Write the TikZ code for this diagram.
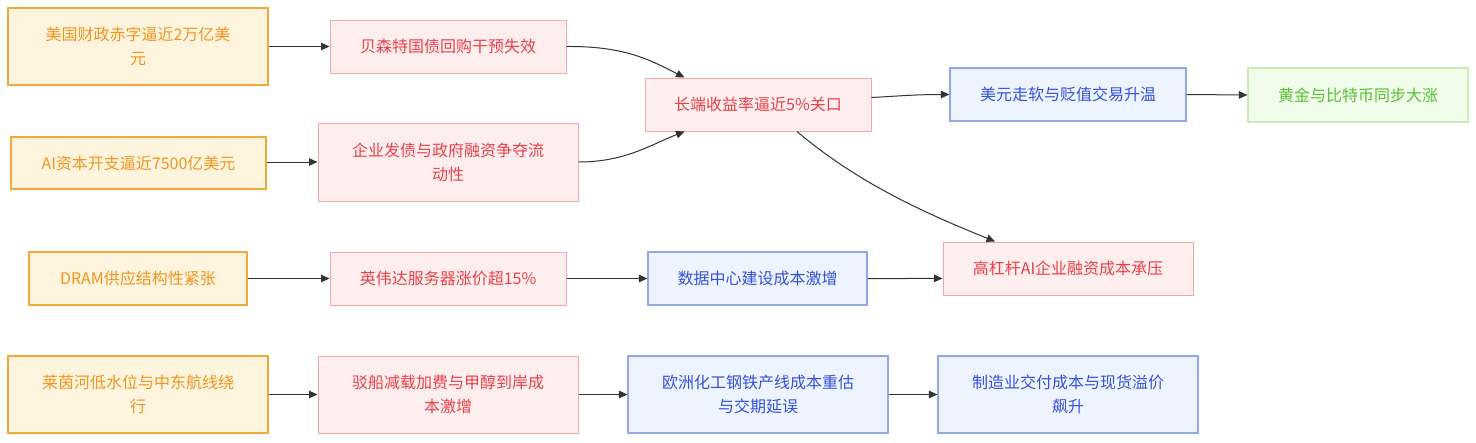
\documentclass[tikz,border=0pt]{standalone}
\usepackage{fontspec}
\setmainfont{Noto Sans CJK SC}
\usetikzlibrary{arrows.meta}
\definecolor{ofill}{HTML}{FFF4DD}
\definecolor{odraw}{HTML}{F2A93B}
\definecolor{otext}{HTML}{F0961E}
\definecolor{rfill}{HTML}{FFEEEE}
\definecolor{rdraw}{HTML}{F2A7A9}
\definecolor{rtext}{HTML}{E8414A}
\definecolor{bfill}{HTML}{EEF4FF}
\definecolor{bdraw}{HTML}{91A9E4}
\definecolor{btext}{HTML}{3452D8}
\definecolor{gfill}{HTML}{F1FDEB}
\definecolor{gdraw}{HTML}{C6EDB4}
\definecolor{gtext}{HTML}{58C034}
\definecolor{edge}{HTML}{333333}
\begin{document}
\begin{tikzpicture}[x=1pt,y=-1pt,
  box/.style={rectangle, align=center, inner sep=0pt, font=\fontsize{16}{24}\selectfont},
  obox/.style={box, fill=ofill, draw=odraw, line width=1.6pt, text=otext},
  rbox/.style={box, fill=rfill, draw=rdraw, line width=1pt, text=rtext},
  bbox/.style={box, fill=bfill, draw=bdraw, line width=1.2pt, text=btext},
  gbox/.style={box, fill=gfill, draw=gdraw, line width=1.2pt, text=gtext},
  link/.style={draw=edge, line width=1pt, -{Triangle[length=8.5pt,width=7.5pt]}}]
\useasboundingbox (0,0) rectangle (1476,442);
% row 1
\node[obox, minimum width=260pt, minimum height=77pt] (A1) at (138,46.5) {美国财政赤字逼近2万亿美\\元};
\node[rbox, minimum width=236pt, minimum height=53pt] (B1) at (448,46.5) {贝森特国债回购干预失效};
\node[obox, minimum width=255pt, minimum height=52pt] (A2) at (138.5,163) {AI资本开支逼近7500亿美元};
\node[rbox, minimum width=260pt, minimum height=78pt] (B2) at (448,162) {企业发债与政府融资争夺流\\动性};
\node[rbox, minimum width=226pt, minimum height=53pt] (C) at (758,104.5) {长端收益率逼近5\%关口};
\node[bbox, minimum width=236pt, minimum height=53pt] (D) at (1068,94.5) {美元走软与贬值交易升温};
\node[gbox, minimum width=220pt, minimum height=54pt] (E) at (1358,95) {黄金与比特币同步大涨};
% row 3
\node[obox, minimum width=218pt, minimum height=53pt] (A3) at (138,278.5) {DRAM供应结构性紧张};
\node[rbox, minimum width=236pt, minimum height=53pt] (B3) at (448,278.5) {英伟达服务器涨价超15\%};
\node[bbox, minimum width=219pt, minimum height=53pt] (F) at (757.5,278.5) {数据中心建设成本激增};
\node[rbox, minimum width=250pt, minimum height=53pt] (G) at (1068,268.5) {高杠杆AI企业融资成本承压};
% row 4
\node[obox, minimum width=260pt, minimum height=77pt] (A4) at (138,394.5) {莱茵河低水位与中东航线绕\\行};
\node[rbox, minimum width=260pt, minimum height=77pt] (B4) at (448,394.5) {驳船减载加费与甲醇到岸成\\本激增};
\node[bbox, minimum width=260pt, minimum height=77pt] (H) at (758,394.5) {欧洲化工钢铁产线成本重估\\与交期延误};
\node[bbox, minimum width=260pt, minimum height=77pt] (I) at (1068,394.5) {制造业交付成本与现货溢价\\飙升};
% edges
\draw[link] (A1.east) -- (B1.west);
\draw[link] (A2.east |- B2.west) -- (B2.west);
\draw[link] (B1.east) .. controls (625,46) and (650,60) .. ([xshift=40pt]C.north west);
\draw[link] (B2.east) .. controls (625,162) and (650,145) .. ([xshift=40pt]C.south west);
\draw[link] ([yshift=7pt]C.east) .. controls (900,96) and (915,94.5) .. (D.west);
\draw[link] (D.east) -- (E.west);
\draw[link] ([xshift=39pt]C.south) .. controls (860,185) and (930,215) .. ([xshift=-73pt]G.north);
\draw[link] (A3.east) -- (B3.west);
\draw[link] (B3.east) -- (F.west);
\draw[link] (F.east) .. controls (905,279) and (915,278) .. ([yshift=-10pt]G.west);
\draw[link] (A4.east) -- (B4.west);
\draw[link] (B4.east) -- (H.west);
\draw[link] (H.east) -- (I.west);
\end{tikzpicture}
\end{document}
